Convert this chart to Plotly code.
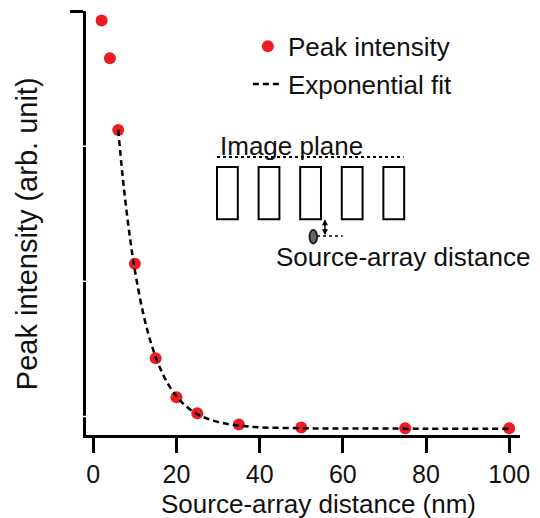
import plotly.graph_objects as go

# ---- data ----
distance_nm = [2, 4, 6, 10, 15, 20, 25, 35, 50, 75, 100]
peak_intensity = [2.93, 2.65, 2.12, 1.13, 0.43, 0.143, 0.024, -0.059, -0.081, -0.087, -0.087]

fit_x = [6, 7, 8, 9, 10, 12, 14, 16, 18, 20, 22, 25, 28, 32, 36, 40, 50, 60, 80, 100]
fit_y = [2.12, 1.795, 1.519, 1.283, 1.081, 0.763, 0.531, 0.362, 0.239, 0.150, 0.084,
         0.018, -0.023, -0.054, -0.071, -0.080, -0.087, -0.089, -0.090, -0.090]

x_ticks = [0, 20, 40, 60, 80, 100]
y_ticks = [0, 1, 2, 3]

x_title = "Source-array distance (nm)"
y_title = "Peak intensity (arb. unit)"

# inset sketch (array of pillars under an image plane)
pillar_left = [29.75, 39.75, 49.75, 59.75, 69.75]
pillar_width = 5.0

FONT = "Liberation Sans, Arial, sans-serif"
RED = "#ED1C24"
TXT = "#111"

fig = go.Figure()
fig.add_trace(go.Scatter(
    x=distance_nm, y=peak_intensity, mode="markers", name="Peak intensity",
    marker=dict(color=RED, size=12, line=dict(width=0)), legendgroup="a"))
fig.add_trace(go.Scatter(
    x=fit_x, y=fit_y, mode="lines", name="Exponential fit", line_shape="spline",
    line=dict(color="black", width=2.5, dash="6px,4px"), legendgroup="b"))

shapes = []
# white breaks on the y axis at the tick positions
for v in y_ticks[:-1]:
    shapes.append(dict(type="line", xref="paper", yref="y", x0=-0.012, x1=0.004,
                       y0=v, y1=v, line=dict(color="white", width=1.5), layer="above"))
# dotted "image plane" line
shapes.append(dict(type="line", xref="x", yref="y", x0=29.75, x1=74.6, y0=1.92, y1=1.92,
                   line=dict(color="black", width=2, dash="dot")))
for xl in pillar_left:
    shapes.append(dict(type="rect", xref="x", yref="y", x0=xl, x1=xl + pillar_width,
                       y0=1.46, y1=1.845, line=dict(color="black", width=2),
                       fillcolor="rgba(0,0,0,0)"))
# source blob
shapes.append(dict(type="circle", xref="x", yref="y", x0=52.0, x1=53.8, y0=1.28, y1=1.38,
                   line=dict(color="#222", width=2), fillcolor="#666"))
# dotted horizontal from source
shapes.append(dict(type="line", xref="x", yref="y", x0=53.8, x1=60.0, y0=1.335, y1=1.335,
                   line=dict(color="black", width=1.5, dash="dot")))

annotations = [
    dict(x=29.9, y=2.0, xref="x", yref="y", text="Image plane", showarrow=False,
         xanchor="left", yanchor="middle", font=dict(family=FONT, size=26, color=TXT)),
    dict(x=43.5, y=1.18, xref="x", yref="y", text="Source-array distance", showarrow=False,
         xanchor="left", yanchor="middle", font=dict(family=FONT, size=26, color=TXT)),
    dict(x=55.7, y=1.46, ax=55.7, ay=1.33, xref="x", yref="y", axref="x", ayref="y",
         text="", showarrow=True, arrowhead=2, arrowside="end+start", arrowsize=0.8,
         arrowwidth=1.5, arrowcolor="black"),
    # axis titles
    dict(x=0.535, y=-0.162, xref="paper", yref="paper", text=x_title, showarrow=False,
         xanchor="center", yanchor="middle", font=dict(family=FONT, size=26, color=TXT)),
    dict(x=-0.136, y=0.476, xref="paper", yref="paper", text=y_title, showarrow=False,
         textangle=-90, xanchor="center", yanchor="middle",
         font=dict(family=FONT, size=29, color=TXT)),
]

fig.update_layout(
    width=540, height=518,
    margin=dict(l=86, r=20, t=11, b=83, autoexpand=False),
    plot_bgcolor="white", paper_bgcolor="white",
    font=dict(family=FONT, size=24, color=TXT),
    showlegend=True,
    legend=dict(x=0.373, y=0.972, xanchor="left", yanchor="top",
                font=dict(family=FONT, size=26, color=TXT),
                bgcolor="rgba(0,0,0,0)", tracegroupgap=1, traceorder="grouped"),
    shapes=shapes, annotations=annotations,
    xaxis=dict(range=[-1.75, 102.6], tickvals=x_ticks, ticks="outside", ticklen=15,
               tickwidth=3, tickcolor="black", showline=True, linewidth=3,
               linecolor="black", showgrid=False, zeroline=False, automargin=False,
               tickfont=dict(family=FONT, size=25, color=TXT)),
    yaxis=dict(range=[-0.137, 3.0], tickvals=[y_ticks[-1]], ticks="outside", ticklen=13,
               tickwidth=3, tickcolor="black", showticklabels=False, showline=True,
               linewidth=3, linecolor="black", showgrid=False, zeroline=False,
               automargin=False),
)

fig.write_html("out.html", config={"displayModeBar": False},
               post_script="document.body.style.margin='0px';")
